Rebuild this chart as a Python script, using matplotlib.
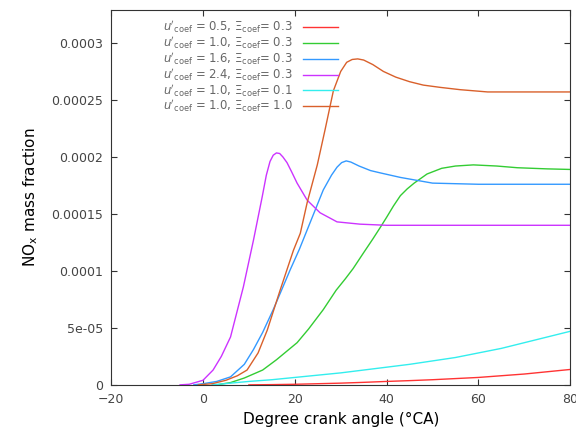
import numpy as np
import matplotlib
matplotlib.use("Agg")
import matplotlib.pyplot as plt

# Data (crank angle in degCA, NOx mass fraction)
x_red = [10, 15, 20, 25, 30, 35, 40, 45, 50, 55, 60, 65, 70, 75, 80]
y_red = [0, 2e-7, 5e-7, 1.0e-6, 1.5e-6, 2.2e-6, 3.0e-6, 3.7e-6, 4.5e-6,
         5.5e-6, 6.5e-6, 8.0e-6, 9.5e-6, 1.15e-5, 1.35e-5]

x_green = [3, 6, 9, 13, 16, 20.5, 23, 26.2, 29, 31, 32.7, 35, 37, 38.6, 40,
           41.5, 43, 44.5, 46, 48.8, 52, 55, 58.9, 64, 68.5, 75, 80]
y_green = [0, 2e-6, 6e-6, 1.3e-5, 2.2e-5, 3.7e-5, 4.9e-5, 6.6e-5, 8.3e-5,
           9.3e-5, 1.02e-4, 1.16e-4, 1.28e-4, 1.38e-4, 1.47e-4, 1.57e-4,
           1.66e-4, 1.72e-4, 1.77e-4, 1.85e-4, 1.90e-4, 1.92e-4, 1.93e-4,
           1.92e-4, 1.905e-4, 1.895e-4, 1.89e-4]

x_blue = [-2, 0, 3, 6, 9, 11, 13, 15.3, 17, 19, 21, 22.7, 24.5, 26.2, 28,
          29.2, 30.2, 31.2, 32.2, 34, 36.5, 38.6, 43, 50, 60, 80]
y_blue = [0, 1e-6, 3e-6, 7e-6, 1.8e-5, 3.1e-5, 4.6e-5, 6.6e-5, 8.2e-5,
          1.01e-4, 1.19e-4, 1.36e-4, 1.54e-4, 1.71e-4, 1.84e-4, 1.91e-4,
          1.95e-4, 1.965e-4, 1.955e-4, 1.92e-4, 1.88e-4, 1.86e-4, 1.82e-4,
          1.77e-4, 1.76e-4, 1.76e-4]

x_purple = [-5, -3, 0, 2.2, 4, 6, 8.8, 11, 12.9, 13.8, 14.6, 15.3, 16.0,
            16.7, 17.4, 18.3, 19.3, 20.5, 22.7, 25.5, 29.2, 34.2, 40, 50,
            60, 70, 80]
y_purple = [0, 5e-7, 4e-6, 1.3e-5, 2.5e-5, 4.2e-5, 8.6e-5, 1.27e-4, 1.65e-4,
            1.84e-4, 1.96e-4, 2.015e-4, 2.035e-4, 2.03e-4, 2.0e-4, 1.95e-4,
            1.87e-4, 1.77e-4, 1.62e-4, 1.51e-4, 1.43e-4, 1.41e-4, 1.40e-4,
            1.40e-4, 1.40e-4, 1.40e-4, 1.40e-4]

x_cyan = [2, 6, 10, 15, 20, 25, 30, 35, 40, 45, 50, 55, 60, 65, 70, 75, 80]
y_cyan = [0, 1.5e-6, 3e-6, 4.5e-6, 6.5e-6, 8.5e-6, 1.05e-5, 1.3e-5, 1.55e-5,
          1.8e-5, 2.1e-5, 2.4e-5, 2.8e-5, 3.2e-5, 3.7e-5, 4.2e-5, 4.7e-5]

x_orange = [-1, 2, 5, 7.5, 9.6, 12, 14, 16.8, 19.7, 21.2, 22.7, 24.9, 26.6,
            28.4, 30, 31.3, 32.5, 33.7, 35, 37, 39.3, 42, 45, 48, 51.7, 56,
            62, 80]
y_orange = [0, 1e-6, 4e-6, 8e-6, 1.3e-5, 2.8e-5, 4.8e-5, 8.3e-5, 1.18e-4,
            1.33e-4, 1.6e-4, 1.93e-4, 2.24e-4, 2.58e-4, 2.75e-4, 2.83e-4,
            2.855e-4, 2.86e-4, 2.85e-4, 2.81e-4, 2.75e-4, 2.70e-4, 2.66e-4,
            2.63e-4, 2.61e-4, 2.59e-4, 2.57e-4, 2.57e-4]

labels = [
    r"$u'_{\rm coef}$ = 0.5, $\Xi_{\rm coef}$= 0.3",
    r"$u'_{\rm coef}$ = 1.0, $\Xi_{\rm coef}$= 0.3",
    r"$u'_{\rm coef}$ = 1.6, $\Xi_{\rm coef}$= 0.3",
    r"$u'_{\rm coef}$ = 2.4, $\Xi_{\rm coef}$= 0.3",
    r"$u'_{\rm coef}$ = 1.0, $\Xi_{\rm coef}$= 0.1",
    r"$u'_{\rm coef}$ = 1.0, $\Xi_{\rm coef}$= 1.0",
]
colors = ["#ff3333", "#33cc33", "#3399ff", "#cc33ff", "#33eeee", "#d9602b"]

y_ticks = [0, 5e-5, 1e-4, 1.5e-4, 2e-4, 2.5e-4, 3e-4]
y_ticklabels = ["0", "5e-05", "0.0001", "0.00015", "0.0002", "0.00025", "0.0003"]
x_ticks = [-20, 0, 20, 40, 60, 80]

series = [(x_red, y_red), (x_green, y_green), (x_blue, y_blue),
          (x_purple, y_purple), (x_cyan, y_cyan), (x_orange, y_orange)]

fig = plt.figure(figsize=(5.76, 4.30), dpi=100)
ax = fig.add_axes([0.193, 0.105, 0.797, 0.872])

for (xs, ys), lab, c in zip(series, labels, colors):
    ax.plot(xs, ys, color=c, lw=1.0, label=lab)

ax.set_xlim(-20, 80)
ax.set_ylim(0, 0.000329)
ax.set_xticks(x_ticks)
ax.set_yticks(y_ticks)
ax.set_yticklabels(y_ticklabels)
ax.tick_params(direction="in", top=True, right=True, length=4,
               labelsize=9, colors="#333333", labelcolor="#444444", pad=6)
for s in ax.spines.values():
    s.set_color("#333333")

ax.set_xlabel("Degree crank angle (°CA)", fontsize=11)
ax.set_ylabel(r"NO$_\mathregular{x}$ mass fraction", fontsize=11, labelpad=8)

leg = ax.legend(loc="upper left", bbox_to_anchor=(0.095, 0.998), frameon=False,
                markerfirst=False, fontsize=8.4, handlelength=3.0,
                labelspacing=-0.07, handletextpad=0.9, borderaxespad=0.3)
for t in leg.get_texts():
    t.set_color("#666666")

fig.savefig("out.png", dpi=100)
